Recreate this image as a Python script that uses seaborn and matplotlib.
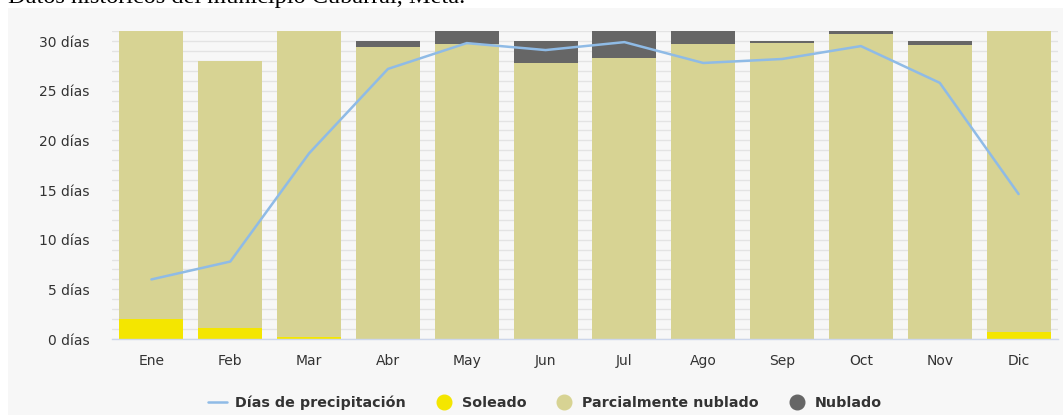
import numpy as np
import pandas as pd
import matplotlib
matplotlib.use("Agg")
import matplotlib.pyplot as plt
from matplotlib.patches import Rectangle
from matplotlib.lines import Line2D
from matplotlib.ticker import MultipleLocator, FuncFormatter
import seaborn as sns

months = ["Ene", "Feb", "Mar", "Abr", "May", "Jun", "Jul", "Ago", "Sep", "Oct", "Nov", "Dic"]
soleado = [2.0, 1.1, 0.2, 0.0, 0.0, 0.0, 0.0, 0.0, 0.0, 0.0, 0.0, 0.7]
parcial = [29.0, 26.9, 30.8, 29.4, 29.7, 27.8, 28.3, 29.7, 29.8, 30.75, 29.65, 30.3]
nublado = [0.0, 0.0, 0.0, 0.6, 1.3, 2.2, 2.7, 1.3, 0.2, 0.25, 0.35, 0.0]
precipitacion = [6.0, 7.8, 18.7, 27.2, 29.8, 29.1, 29.9, 27.8, 28.2, 29.5, 25.8, 14.6]
title = "Datos históricos del municipio Cubarral, Meta."

c_sol = "#f4e600"
c_par = "#d7d393"
c_nub = "#666666"
c_line = "#8fbbe6"
bg = "#f7f7f7"

sns.set_theme(style="white")
plt.rcParams["font.family"] = ["DejaVu Sans"]

W, H = 1063, 415
fig = plt.figure(figsize=(W / 100, H / 100), dpi=100, facecolor="white")
fig.patches.append(Rectangle((8 / W, 0), 1, 1 - 8 / H, transform=fig.transFigure,
                             facecolor=bg, edgecolor="none", zorder=-10))
fig.text(8 / W, 1 + 13 / H, title, family="Liberation Serif", fontsize=17.5,
         color="#000000", va="top", ha="left")

left, right = 112 / W, 1058 / W
bottom = (H - 339) / H
top = (H - 31.2) / H
ax = fig.add_axes([left, bottom, right - left, top - bottom])
ax.set_facecolor(bg)

df = pd.DataFrame({"mes": months, "sol": soleado, "par": parcial, "nub": nublado})
b1 = np.array(soleado)
b2 = b1 + np.array(parcial)
kw = dict(saturation=1, width=0.81, ax=ax, zorder=2, linewidth=0, edgecolor="none")
sns.barplot(data=df, x="mes", y="sol", color=c_sol, **kw)
sns.barplot(data=df, x="mes", y="par", bottom=b1, color=c_par, **kw)
sns.barplot(data=df, x="mes", y="nub", bottom=b2, color=c_nub, **kw)
sns.lineplot(x=np.arange(len(months)), y=precipitacion, color=c_line, linewidth=1.8, ax=ax, zorder=3)

ax.set_xlim(-0.5, 11.5)
ax.set_ylim(0, 31)
ax.yaxis.set_major_locator(MultipleLocator(5))
ax.yaxis.set_minor_locator(MultipleLocator(1))
ax.yaxis.set_major_formatter(FuncFormatter(lambda v, p: f"{int(v)} días"))
ax.grid(True, which="both", axis="y", color="#e3e3e3", linewidth=1.0, zorder=0)
ax.set_axisbelow(True)
ax.set_xlabel("")
ax.set_ylabel("")
for s in ["left", "right", "top"]:
    ax.spines[s].set_visible(False)
ax.spines["bottom"].set_color("#ccd6eb")
ax.spines["bottom"].set_linewidth(1.0)
ax.tick_params(axis="both", which="both", length=0, labelsize=10, labelcolor="#333333")
ax.tick_params(axis="x", pad=11)
ax.tick_params(axis="y", pad=16)

handles = [
    Line2D([0], [0], color=c_line, linewidth=1.8),
    Line2D([0], [0], marker="o", linestyle="none", markerfacecolor=c_sol, markeredgecolor=c_sol, markersize=10.5),
    Line2D([0], [0], marker="o", linestyle="none", markerfacecolor=c_par, markeredgecolor=c_par, markersize=10.5),
    Line2D([0], [0], marker="o", linestyle="none", markerfacecolor=c_nub, markeredgecolor=c_nub, markersize=10.5),
]
labels = ["Días de precipitación", "Soleado", "Parcialmente nublado", "Nublado"]
fig.legend(handles, labels, loc="center", bbox_to_anchor=(545 / W, (H - 403) / H), ncol=4,
           frameon=False, prop={"weight": "bold", "size": 10.3}, handlelength=1.3,
           handletextpad=0.6, columnspacing=2.0, labelcolor="#333333")

fig.savefig("out.png", dpi=100, facecolor="white")
